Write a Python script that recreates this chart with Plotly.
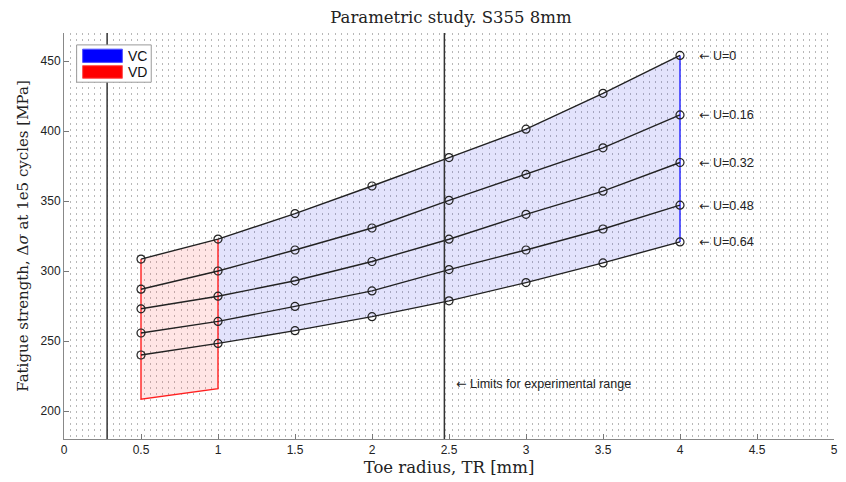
import plotly.graph_objects as go

# Toe radius values (mm)
toe_radius = [0.5, 1.0, 1.5, 2.0, 2.5, 3.0, 3.5, 4.0]

# Fatigue strength at 1e5 cycles (MPa) for each misalignment level U
u_labels = ["U=0", "U=0.16", "U=0.32", "U=0.48", "U=0.64"]
strength_u0 = [308.5, 322.8, 341.0, 360.7, 381.0, 401.3, 426.9, 454.0]
strength_u016 = [287.0, 300.0, 315.0, 330.7, 350.5, 369.0, 388.0, 411.5]
strength_u032 = [273.0, 282.0, 293.0, 306.8, 322.7, 340.5, 357.0, 377.5]
strength_u048 = [255.7, 264.0, 274.7, 285.8, 301.0, 315.0, 330.0, 347.0]
strength_u064 = [240.0, 248.3, 257.4, 267.4, 278.7, 291.7, 305.8, 320.8]
series = [strength_u0, strength_u016, strength_u032, strength_u048, strength_u064]

# Lower bound of the VD region at TR = 0.5 and TR = 1.0
vd_lower = [208.5, 216.0]

# Limits of the experimental toe-radius range (mm)
exp_limits = [0.28, 2.47]

x_ticks = [0, 0.5, 1, 1.5, 2, 2.5, 3, 3.5, 4, 4.5, 5]
y_ticks = [200, 250, 300, 350, 400, 450]

SANS = "Liberation Sans, Arial, sans-serif"
SERIF = "DejaVu Serif, serif"
ARROW = '<span style="font-family:DejaVu Sans">\u2190</span>'

fig = go.Figure()

# VC region: between U=0 and U=0.64 for TR 1..4
vc_x = toe_radius[1:] + toe_radius[1:][::-1]
vc_y = strength_u0[1:] + strength_u064[1:][::-1]
fig.add_trace(go.Scatter(x=vc_x, y=vc_y, fill="toself", mode="none",
                         fillcolor="rgba(40,40,230,0.13)", showlegend=False,
                         hoverinfo="skip"))
fig.add_trace(go.Scatter(x=[toe_radius[-1], toe_radius[-1]],
                         y=[strength_u064[-1], strength_u0[-1]],
                         mode="lines", line=dict(color="#2020ff", width=1.4),
                         showlegend=False, hoverinfo="skip"))

# VD region: below U=0 for TR 0.5..1
vd_x = [toe_radius[0], toe_radius[1], toe_radius[1], toe_radius[0]]
vd_y = [vd_lower[0], vd_lower[1], strength_u0[1], strength_u0[0]]
fig.add_trace(go.Scatter(x=vd_x, y=vd_y, fill="toself", mode="none",
                         fillcolor="rgba(255,70,70,0.14)", showlegend=False,
                         hoverinfo="skip"))
fig.add_trace(go.Scatter(x=[toe_radius[0], toe_radius[0], toe_radius[1], toe_radius[1]],
                         y=[strength_u0[0], vd_lower[0], vd_lower[1], strength_u0[1]],
                         mode="lines", line=dict(color="#ff2020", width=1.4),
                         showlegend=False, hoverinfo="skip"))

# Curves for each U
for lab, ys in zip(u_labels, series):
    fig.add_trace(go.Scatter(x=toe_radius, y=ys, mode="lines+markers", name=lab,
                             line=dict(color="#222222", width=1.4),
                             marker=dict(symbol="circle-open", size=8,
                                         color="#222222", line=dict(width=1.2)),
                             showlegend=False))
    fig.add_annotation(x=toe_radius[-1] + 0.11, y=ys[-1], text=ARROW + " " + lab,
                       showarrow=False, xanchor="left", yanchor="middle",
                       font=dict(family=SANS, size=12.5, color="#222"))

# Experimental range limits
for xv in exp_limits:
    fig.add_shape(type="line", xref="x", yref="paper", x0=xv, x1=xv, y0=0, y1=1,
                  line=dict(color="#333333", width=1.5))
fig.add_annotation(x=exp_limits[1] + 0.06, y=219.6,
                   text=ARROW + " Limits for experimental range", showarrow=False,
                   xanchor="left", yanchor="middle",
                   font=dict(family=SANS, size=12.5, color="#222"))

# Legend box drawn by hand (solid swatches)
fig.add_shape(type="rect", xref="paper", yref="paper", x0=0.0164, x1=0.1133,
              y0=0.8788, y1=0.9707, fillcolor="white",
              line=dict(color="#9a9a9a", width=1), layer="above")
fig.add_shape(type="rect", xref="paper", yref="paper", x0=0.0242, x1=0.0758,
              y0=0.9276, y1=0.9602, fillcolor="#0000ff",
              line=dict(color="#5050ff", width=1), layer="above")
fig.add_shape(type="rect", xref="paper", yref="paper", x0=0.0242, x1=0.0758,
              y0=0.8885, y1=0.9195, fillcolor="#ff0000",
              line=dict(color="#ff5050", width=1), layer="above")
for txt, yy in [("VC", 0.944), ("VD", 0.9037)]:
    fig.add_annotation(xref="paper", yref="paper", x=0.080, y=yy, text=txt,
                       showarrow=False, xanchor="left", yanchor="middle",
                       font=dict(family=SANS, size=14, color="#111"))

fig.update_layout(
    width=846, height=482,
    margin=dict(l=64, r=8, t=33, b=39),
    paper_bgcolor="white", plot_bgcolor="white",
    title=dict(text="Parametric study. S355 8mm", x=0.533, xanchor="center",
               y=0.965, yanchor="middle",
               font=dict(family=SERIF, size=16.5, color="#222")),
    showlegend=False,
)
fig.update_xaxes(
    range=[0, 5], tickvals=x_ticks, ticktext=[f"{v:g}" for v in x_ticks],
    ticks="inside", ticklen=5, tickcolor="#777", showgrid=False, zeroline=False,
    showline=True, linecolor="#888", linewidth=1,
    tickfont=dict(family=SANS, size=12, color="#222"),
    title=dict(text="Toe radius, TR [mm]", standoff=5,
               font=dict(family=SERIF, size=16.5, color="#222")),
    minor=dict(dtick=0.04, showgrid=True, gridcolor="#b8b8b8", gridwidth=1,
               griddash="2px,4px"),
)
fig.update_yaxes(
    range=[180, 470], tickvals=y_ticks, ticks="inside", ticklen=5, tickcolor="#777",
    showgrid=False, zeroline=False, showline=True, linecolor="#888", linewidth=1,
    tickfont=dict(family=SANS, size=12, color="#222"),
    title=dict(text="Fatigue strength, \u0394<i>\u03c3</i> at 1e5 cycles [MPa]", standoff=8,
               font=dict(family=SERIF, size=15, color="#222")),
)

fig.write_html("out.html")
